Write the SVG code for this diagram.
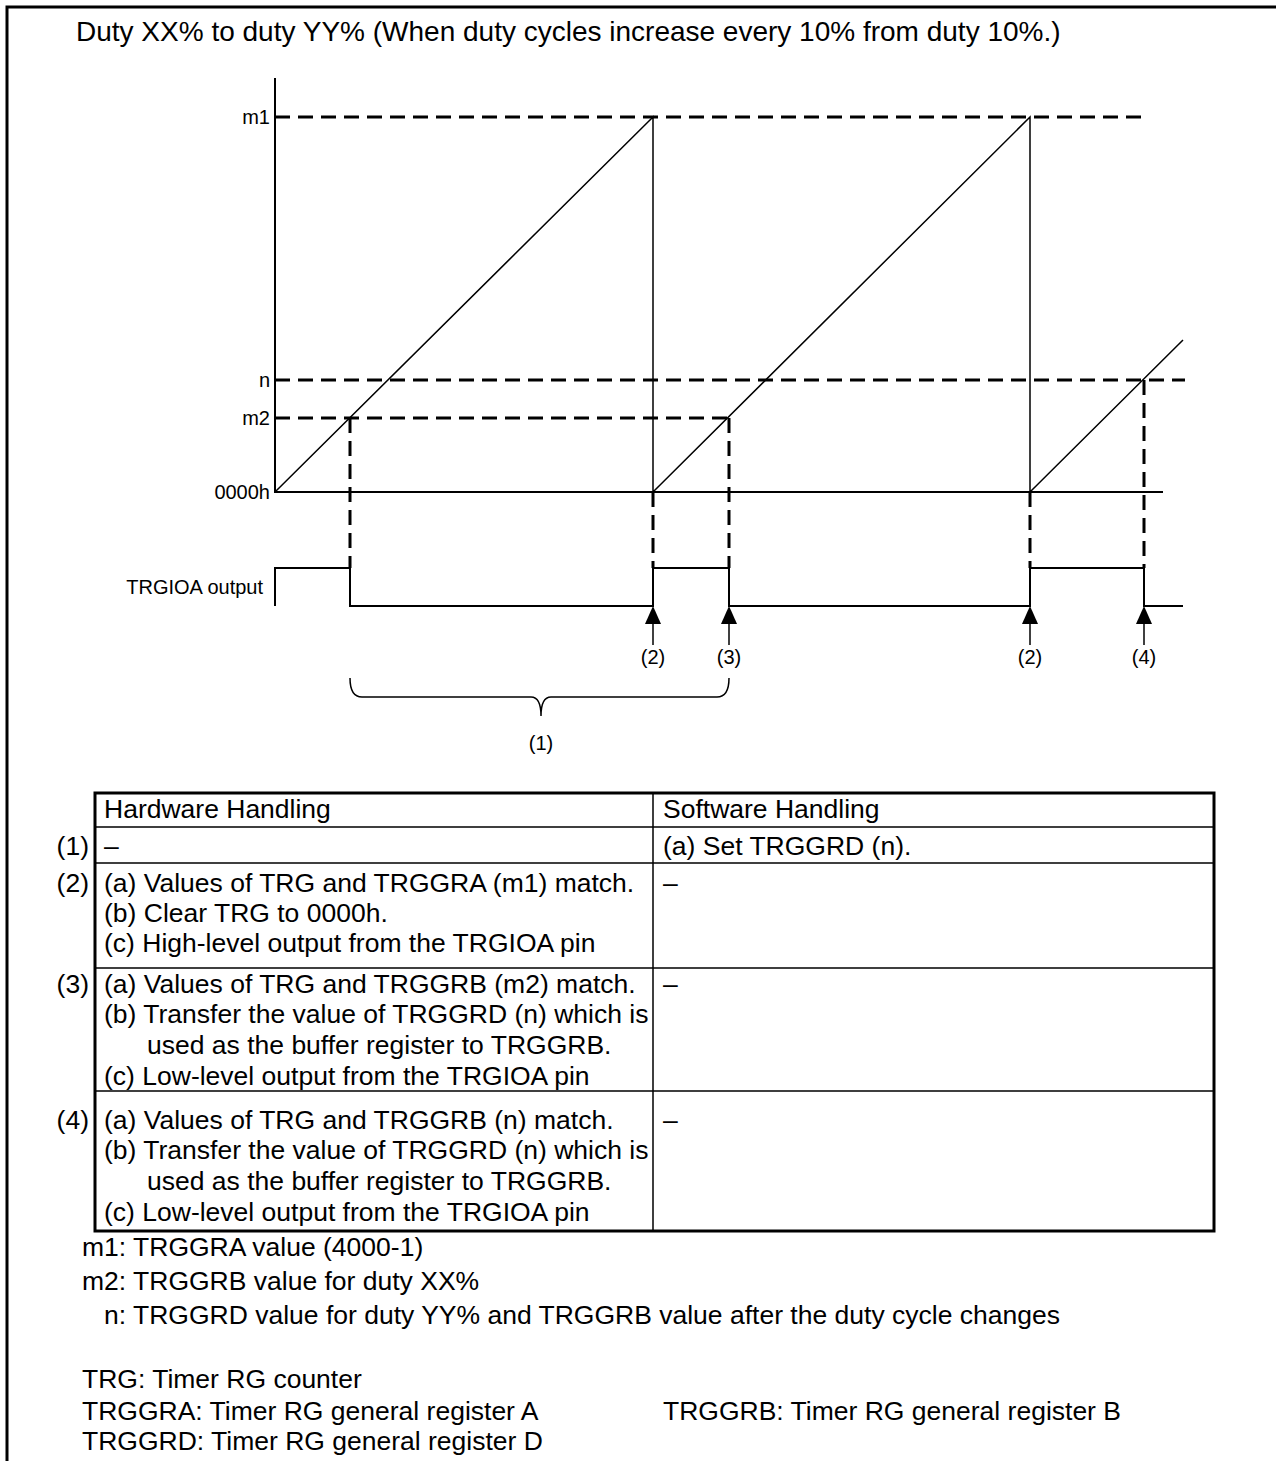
<svg xmlns="http://www.w3.org/2000/svg" width="1276" height="1461" viewBox="0 0 1276 1461">
<style>
text{font-family:"Liberation Sans",Arial,sans-serif;fill:#000}
.title{font-size:28px}
.big{font-size:26.5px}
.lbl{font-size:20px}
.sol{stroke:#000;stroke-width:2;fill:none}
.dash{stroke:#000;stroke-width:3;fill:none;stroke-dasharray:15 8}
.thin{stroke:#000;stroke-width:1.5;fill:none}
.frame{stroke:#000;stroke-width:3;fill:none}
.arr{fill:#000}
</style>
<defs>
<path id="ah" d="M0,0 L-8,18 L8,18 Z" class="arr"/>
</defs>
<path class="frame" d="M1276,7 H7 V1461"/>
<text class="title" x="76" y="41">Duty XX% to duty YY% (When duty cycles increase every 10% from duty 10%.)</text>

<g id="axis-labels" class="lbl" text-anchor="end">
<text x="270" y="124">m1</text>
<text x="270" y="387">n</text>
<text x="270" y="425">m2</text>
<text x="270" y="499">0000h</text>
<text x="263" y="594">TRGIOA output</text>
</g>

<g id="chart">
<path class="sol" d="M275,78 V492 H1163"/>
<path class="dash" d="M275,117 H1145"/>
<path class="dash" d="M275,380 H1185"/>
<path class="dash" d="M275,418 H730"/>
<path class="thin" d="M275,492 L653,117 V492 L1030,117 V492 L1183,340"/>
<path class="dash" d="M350,418 V568 M653,492 V568 M729,418 V568 M1030,492 V568 M1144,380 V568"/>
<path class="sol" d="M275,606 V568 H350 V606 H653 V568 H729 V606 H1030 V568 H1144 V606 H1183"/>
</g>

<g id="connectors">
<g class="thin">
<path d="M653,620 V645"/>
<path d="M729,620 V645"/>
<path d="M1030,620 V645"/>
<path d="M1144,620 V645"/>
</g>
<use href="#ah" x="653" y="606"/>
<use href="#ah" x="729" y="606"/>
<use href="#ah" x="1030" y="606"/>
<use href="#ah" x="1144" y="606"/>
</g>

<g id="event-labels" class="lbl" text-anchor="middle">
<text x="653" y="664">(2)</text>
<text x="729" y="664">(3)</text>
<text x="1030" y="664">(2)</text>
<text x="1144" y="664">(4)</text>
</g>

<g id="brace">
<path class="thin" d="M350,678 Q350,697 362,697 H531 Q541,697 541,716 Q541,697 551,697 H717 Q729,697 729,678"/>
<text class="lbl" x="541" y="750" text-anchor="middle">(1)</text>
</g>

<g id="table">
<rect x="95" y="793" width="1119" height="438" fill="none" stroke="#000" stroke-width="3"/>
<path class="thin" d="M653,793 V1231 M95,827 H1214 M95,863 H1214 M95,968 H1214 M95,1091 H1214"/>
<g class="big">
<text x="104" y="818">Hardware Handling</text>
<text x="663" y="818">Software Handling</text>
<text x="89" y="855" text-anchor="end">(1)</text>
<text x="104" y="855">–</text>
<text x="663" y="855">(a) Set TRGGRD (n).</text>
<text x="89" y="892" text-anchor="end">(2)</text>
<text x="104" y="892">(a) Values of TRG and TRGGRA (m1) match.</text>
<text x="104" y="922">(b) Clear TRG to 0000h.</text>
<text x="104" y="952">(c) High-level output from the TRGIOA pin</text>
<text x="663" y="892">–</text>
<text x="89" y="993" text-anchor="end">(3)</text>
<text x="104" y="993">(a) Values of TRG and TRGGRB (m2) match.</text>
<text x="104" y="1023">(b) Transfer the value of TRGGRD (n) which is</text>
<text x="147" y="1054">used as the buffer register to TRGGRB.</text>
<text x="104" y="1085">(c) Low-level output from the TRGIOA pin</text>
<text x="663" y="993">–</text>
<text x="89" y="1129" text-anchor="end">(4)</text>
<text x="104" y="1129">(a) Values of TRG and TRGGRB (n) match.</text>
<text x="104" y="1159">(b) Transfer the value of TRGGRD (n) which is</text>
<text x="147" y="1190">used as the buffer register to TRGGRB.</text>
<text x="104" y="1221">(c) Low-level output from the TRGIOA pin</text>
<text x="663" y="1129">–</text>
</g>
</g>

<g id="notes" class="big">
<text x="82" y="1256">m1: TRGGRA value (4000-1)</text>
<text x="82" y="1290">m2: TRGGRB value for duty XX%</text>
<text x="104" y="1324">n: TRGGRD value for duty YY% and TRGGRB value after the duty cycle changes</text>
<text x="82" y="1388">TRG: Timer RG counter</text>
<text x="82" y="1420">TRGGRA: Timer RG general register A</text>
<text x="663" y="1420">TRGGRB: Timer RG general register B</text>
<text x="82" y="1450">TRGGRD: Timer RG general register D</text>
</g>
</svg>
